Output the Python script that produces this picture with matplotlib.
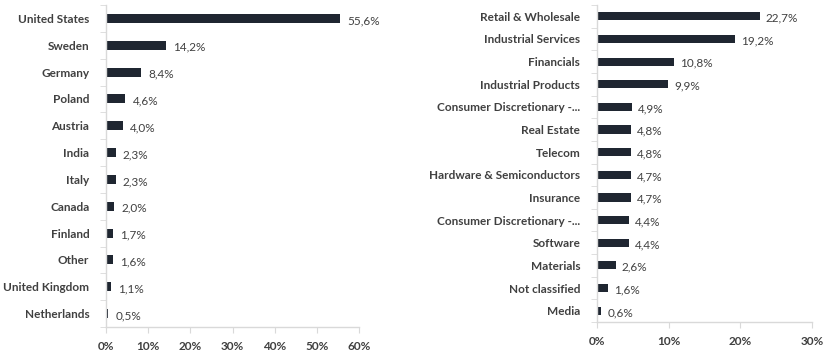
import matplotlib
matplotlib.use("Agg")
import matplotlib.pyplot as plt
import numpy as np

countries = ["United States", "Sweden", "Germany", "Poland", "Austria", "India", "Italy",
             "Canada", "Finland", "Other", "United Kingdom", "Netherlands"]
country_vals = [55.6, 14.2, 8.4, 4.6, 4.0, 2.3, 2.3, 2.0, 1.7, 1.6, 1.1, 0.5]
country_ticks = [0, 10, 20, 30, 40, 50, 60]

sectors = ["Retail & Wholesale", "Industrial Services", "Financials", "Industrial Products",
           "Consumer Discretionary -...", "Real Estate", "Telecom", "Hardware & Semiconductors",
           "Insurance", "Consumer Discretionary -...", "Software", "Materials",
           "Not classified", "Media"]
sector_vals = [22.7, 19.2, 10.8, 9.9, 4.9, 4.8, 4.8, 4.7, 4.7, 4.4, 4.4, 2.6, 1.6, 0.6]
sector_ticks = [0, 10, 20, 30]

plt.rcParams['font.family'] = ['Lato', 'DejaVu Sans']
BAR = "#1f2631"
TXT = "#404040"
GRID = "#d9d9d9"

W, H = 835, 358
fig = plt.figure(figsize=(W / 100, H / 100), dpi=100)


def draw(rect, cats, vals, ticks, bar_h, fs):
    l, r, t, b = rect
    ax = fig.add_axes([l / W, (H - b) / H, (r - l) / W, (b - t) / H])
    n = len(cats)
    y = np.arange(n)
    ax.barh(y, vals, height=bar_h, color=BAR)
    ax.set_ylim(n - 0.5, -0.5)
    ax.set_xlim(ticks[0], ticks[-1])
    ax.set_yticks(y)
    ax.set_yticklabels(cats, fontsize=fs, fontweight='bold', color=TXT)
    ax.set_yticks(np.arange(n + 1) - 0.5, minor=True)
    ax.tick_params(axis='y', which='major', length=0, pad=12)
    ax.tick_params(axis='y', which='minor', length=4, color=GRID)
    ax.set_xticks(ticks)
    ax.set_xticklabels([f"{v}%" for v in ticks], fontsize=fs, fontweight='bold', color=TXT)
    ax.tick_params(axis='x', length=4, color=GRID, pad=6)
    for s in ['top', 'right']:
        ax.spines[s].set_visible(False)
    for s in ['left', 'bottom']:
        ax.spines[s].set_color(GRID)
        ax.spines[s].set_linewidth(1)
    span = ticks[-1] - ticks[0]
    for yi, v in zip(y, vals):
        ax.text(v + span * 0.028, yi + 0.08, f"{v:.1f}%".replace('.', ','), va='center', ha='left',
                fontsize=fs, color=TXT)
    return ax


draw((106, 359, 5, 327), countries, country_vals, country_ticks, 0.34, 8.5)
draw((597, 812, 5, 322), sectors, sector_vals, sector_ticks, 0.36, 8.5)

fig.savefig("out.png", dpi=100, facecolor="white")
